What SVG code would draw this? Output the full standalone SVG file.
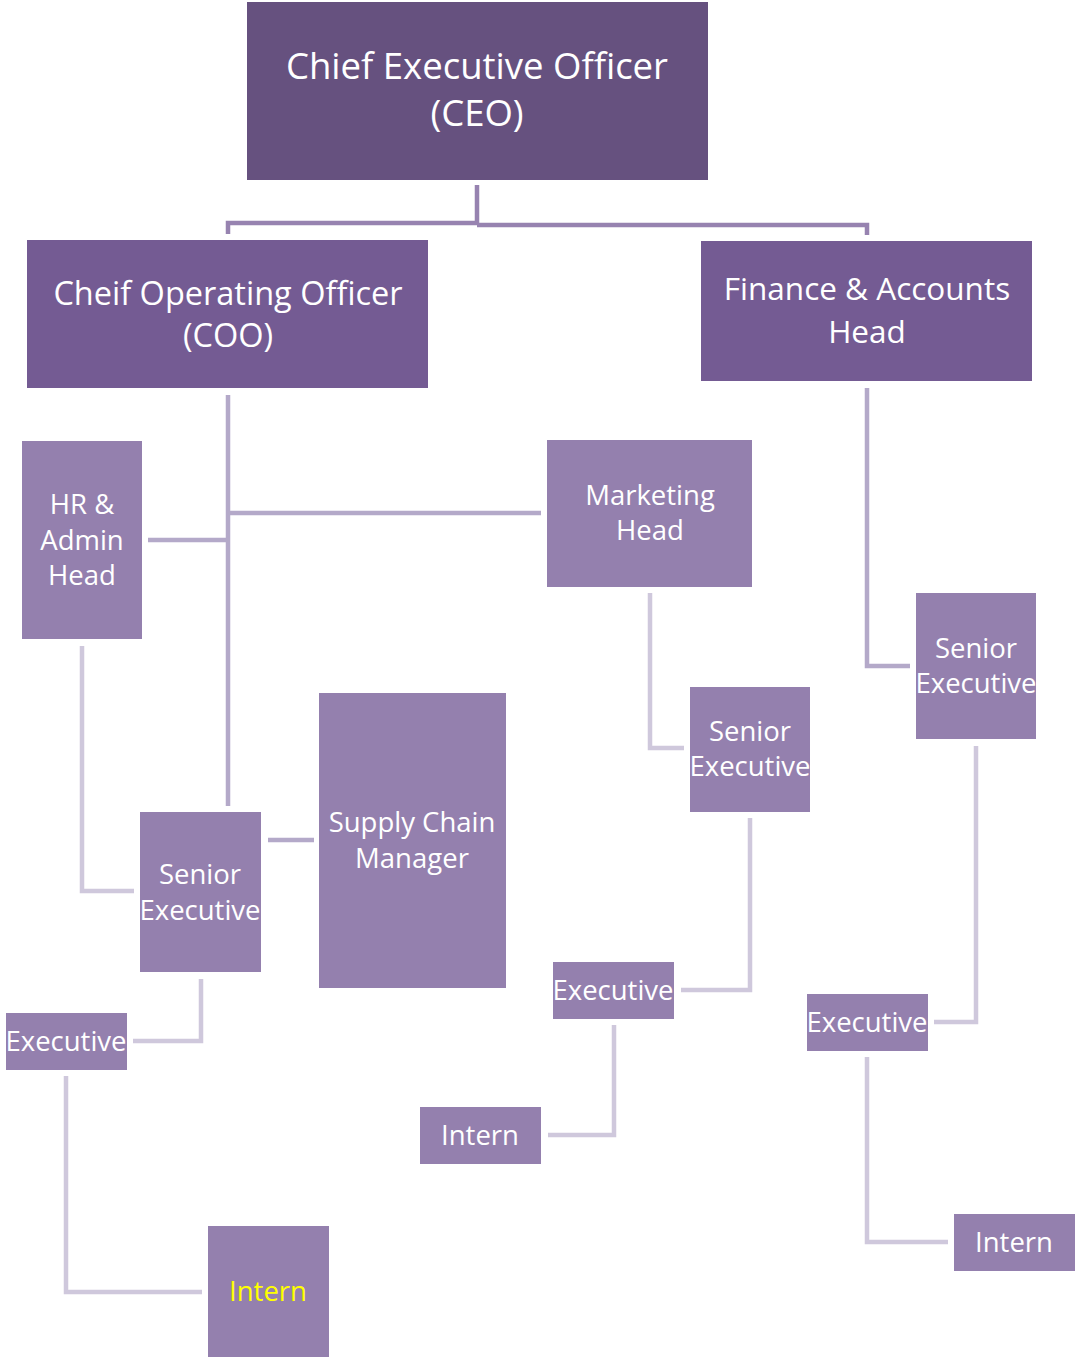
<svg xmlns="http://www.w3.org/2000/svg" width="1075" height="1360" viewBox="0 0 1075 1360">
<style>
.t{font-family:"Open Sans","Liberation Sans",sans-serif;fill:#ffffff;text-anchor:middle}
.big{font-size:36.5px}
.mid{font-size:32.5px}
.fin{font-size:31.5px}
.sm{font-size:27.5px}
.c1{fill:none;stroke:#9783B0;stroke-width:4.5}
.c2{fill:none;stroke:#B4A9C9;stroke-width:4.5}
.c3{fill:none;stroke:#CFC8DC;stroke-width:4.5}
.n0{fill:#66517F}
.n1{fill:#745B93}
.n2{fill:#9480AE}
</style>
<rect width="1075" height="1360" fill="#ffffff"/>
<g id="connectors">
<path class="c1" d="M477 185 V224 M228 234 V223 H477 M477 225 H867 V235"/>
<path class="c2" d="M228 395 V806 M230 513 H541 M148 540 H228"/>
<path class="c2" d="M867 388 V666 H910"/>
<path class="c3" d="M650 593 V748 H684"/>
<path class="c3" d="M82 646 V891 H134"/>
<path class="c2" d="M268 840 H314"/>
<path class="c3" d="M201 979 V1041 H133"/>
<path class="c3" d="M66 1076 V1292 H202"/>
<path class="c3" d="M750 818 V990 H681"/>
<path class="c3" d="M614 1025 V1135 H548"/>
<path class="c3" d="M976 746 V1022 H934"/>
<path class="c3" d="M867 1057 V1242 H948"/>
</g>
<g id="ceo">
<rect class="n0" x="247" y="2" width="461" height="178"/>
<text class="t big" x="477" y="79">Chief Executive Officer</text>
<text class="t big" x="477" y="126">(CEO)</text>
</g>
<g id="coo">
<rect class="n1" x="27" y="240" width="401" height="148"/>
<text class="t mid" x="228" y="305">Cheif Operating Officer</text>
<text class="t mid" x="228" y="347">(COO)</text>
</g>
<g id="finance">
<rect class="n1" x="701" y="241" width="331" height="140"/>
<text class="t fin" x="867" y="300">Finance &amp; Accounts</text>
<text class="t fin" x="867" y="343">Head</text>
</g>
<g id="hr">
<rect class="n2" x="22" y="441" width="120" height="198"/>
<text class="t sm" x="82" y="514">HR &amp;</text>
<text class="t sm" x="82" y="550">Admin</text>
<text class="t sm" x="82" y="585">Head</text>
</g>
<g id="marketing">
<rect class="n2" x="547" y="440" width="205" height="147"/>
<text class="t sm" x="650" y="505">Marketing</text>
<text class="t sm" x="650" y="540">Head</text>
</g>
<g id="se-fin">
<rect class="n2" x="916" y="593" width="120" height="146"/>
<text class="t sm" x="976" y="658">Senior</text>
<text class="t sm" x="976" y="693">Executive</text>
</g>
<g id="se-mkt">
<rect class="n2" x="690" y="687" width="120" height="125"/>
<text class="t sm" x="750" y="741">Senior</text>
<text class="t sm" x="750" y="776">Executive</text>
</g>
<g id="supply">
<rect class="n2" x="319" y="693" width="187" height="295"/>
<text class="t sm" x="412" y="832">Supply Chain</text>
<text class="t sm" x="412" y="868">Manager</text>
</g>
<g id="se-hr">
<rect class="n2" x="140" y="812" width="121" height="160"/>
<text class="t sm" x="200" y="884">Senior</text>
<text class="t sm" x="200" y="920">Executive</text>
</g>
<g id="exec-hr">
<rect class="n2" x="6" y="1013" width="121" height="57"/>
<text class="t sm" x="66" y="1051">Executive</text>
</g>
<g id="intern-hr">
<rect class="n2" x="208" y="1226" width="121" height="131"/>
<text class="t sm" x="268" y="1301" style="fill:#FFFF00">Intern</text>
</g>
<g id="exec-mkt">
<rect class="n2" x="553" y="962" width="121" height="57"/>
<text class="t sm" x="613" y="1000">Executive</text>
</g>
<g id="intern-mkt">
<rect class="n2" x="420" y="1107" width="121" height="57"/>
<text class="t sm" x="480" y="1145">Intern</text>
</g>
<g id="exec-fin">
<rect class="n2" x="807" y="994" width="121" height="57"/>
<text class="t sm" x="867" y="1032">Executive</text>
</g>
<g id="intern-fin">
<rect class="n2" x="954" y="1214" width="121" height="57"/>
<text class="t sm" x="1014" y="1252">Intern</text>
</g>
</svg>
